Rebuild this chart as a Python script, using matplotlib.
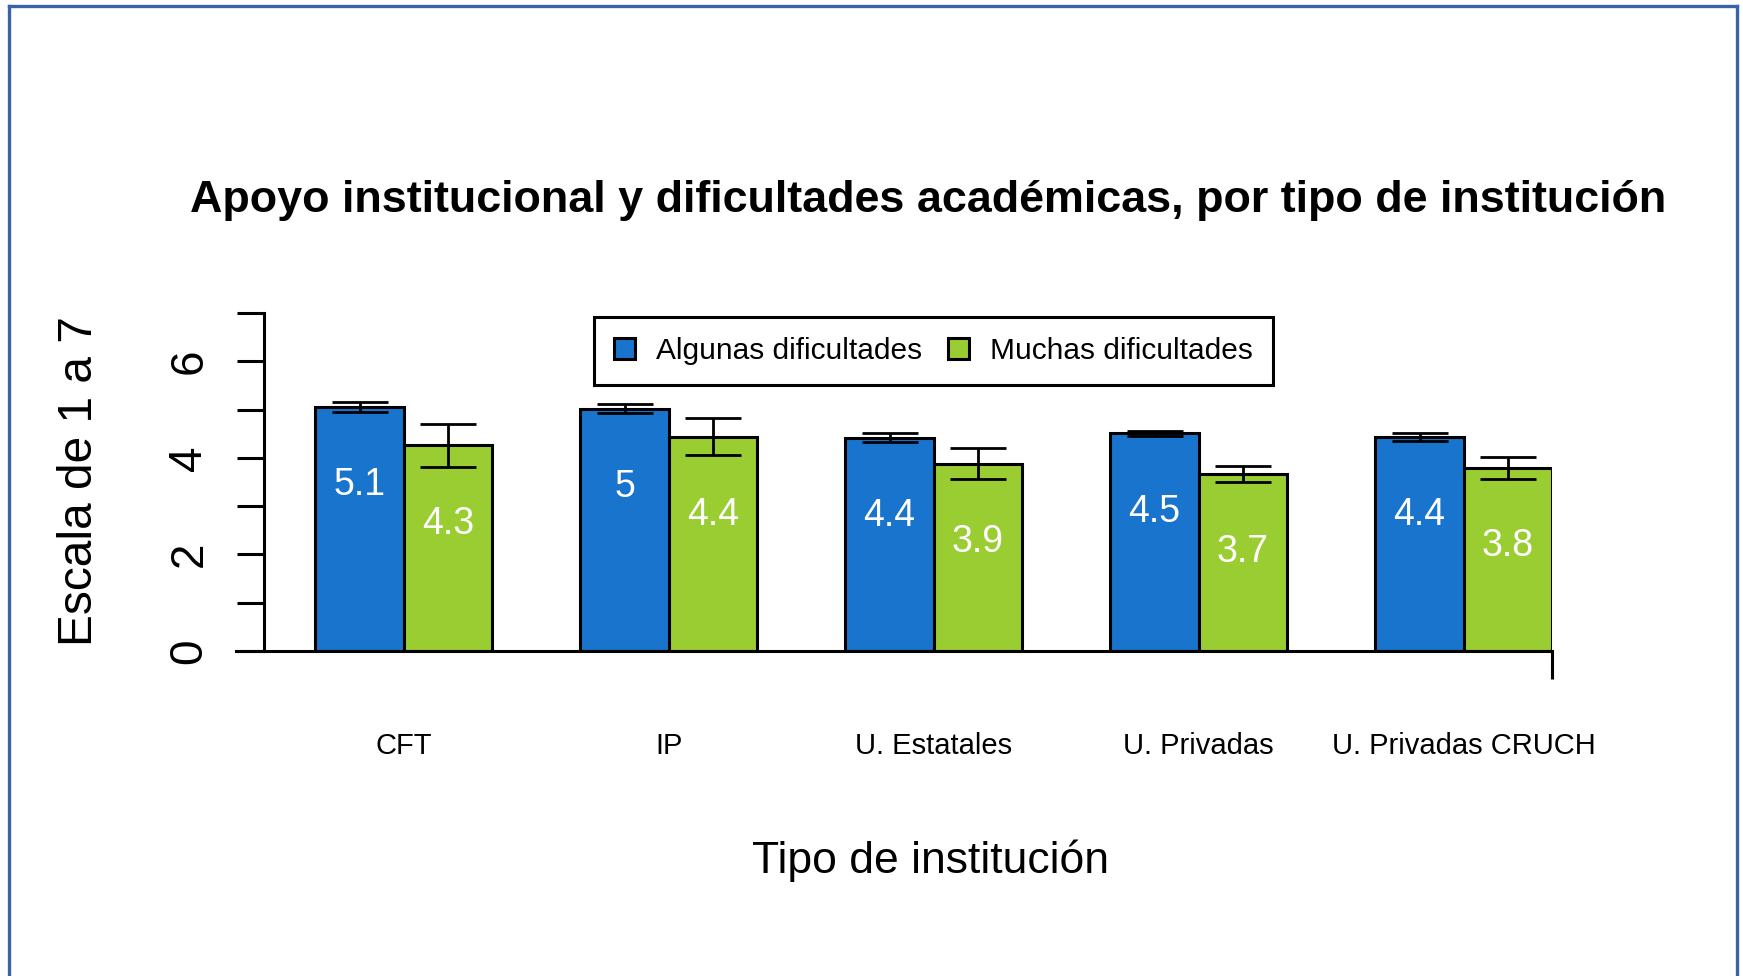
import matplotlib
matplotlib.use('Agg')
import matplotlib.pyplot as plt
from matplotlib import font_manager
from matplotlib.lines import Line2D

# data
categorias = ['CFT', 'IP', 'U. Estatales', 'U. Privadas', 'U. Privadas CRUCH']
series = ['Algunas dificultades', 'Muchas dificultades']
algunas = [5.06, 5.02, 4.42, 4.51, 4.43]
algunas_err = [0.10, 0.10, 0.09, 0.05, 0.09]
muchas = [4.26, 4.44, 3.88, 3.67, 3.79]
muchas_err = [0.44, 0.38, 0.32, 0.16, 0.23]
y_ticks = [0, 1, 2, 3, 4, 5, 6, 7]
y_ticklabels = ['0', '', '2', '', '4', '', '6', '']

AZUL = '#1874CD'
VERDE = '#9ACD32'
MARCO = '#3a62ad'

plt.rcParams['font.family'] = 'Liberation Sans'
names = {f.name for f in font_manager.fontManager.ttflist}
narrow = 'Liberation Sans Narrow' in names
fam_narrow = 'Liberation Sans Narrow' if narrow else 'Liberation Sans'
size_vals = 30 if narrow else 27
size_xt = 24 if narrow else 21

W, H = 1743, 976
fig = plt.figure(figsize=(W / 100, H / 100), dpi=100)

# axes placed in pixel terms: left 236, right 1552, top 313, bottom 651
L, R, T, B = 236, 1552, 313, 651
ax = fig.add_axes([L / W, 1 - B / H, (R - L) / W, (B - T) / H])

def axx(px):
    return (px - L) / (R - L)

def axy(py):
    return (B - py) / (B - T)

# bar positions, R barplot style (width 1, one bar gap between groups)
n = len(categorias)
x_alg = [1.5 + 3 * i for i in range(n)]
x_muc = [2.5 + 3 * i for i in range(n)]
centros = [2 + 3 * i for i in range(n)]

lw = 2.2
b1 = ax.bar(x_alg, algunas, width=1, color=AZUL, edgecolor='black', linewidth=lw, zorder=2)
b2 = ax.bar(x_muc, muchas, width=1, color=VERDE, edgecolor='black', linewidth=lw, zorder=2)

ax.errorbar(x_alg, algunas, yerr=algunas_err, fmt='none', ecolor='black',
            elinewidth=2, capsize=20.5, capthick=2, zorder=3)
ax.errorbar(x_muc, muchas, yerr=muchas_err, fmt='none', ecolor='black',
            elinewidth=2, capsize=20.5, capthick=2, zorder=3)

# value labels inside bars
for xs, vals in ((x_alg, algunas), (x_muc, muchas)):
    for x, v in zip(xs, vals):
        ax.text(x, v - 1.54, '%g' % round(v, 1), color='white', ha='center',
                va='center_baseline', fontsize=size_vals, family=fam_narrow, zorder=4)

ax.set_xlim(0.1, 15.0)
ax.set_ylim(0, 7)

for s in ('top', 'right'):
    ax.spines[s].set_visible(False)
ax.spines['left'].set_position(('data', 0.417))
ax.spines['left'].set_bounds(0, 7)
ax.spines['left'].set_linewidth(lw)
ax.spines['bottom'].set_linewidth(lw)

ax.set_yticks(y_ticks, y_ticklabels, rotation=90, ha='right', va='center')
ax.tick_params(axis='y', length=19.4, width=lw, pad=18.5, labelsize=33)

# single tick at right end of x axis line, category labels as minor ticks
ax.set_xticks([15.0], [''])
ax.tick_params(axis='x', which='major', length=20, width=lw)
ax.set_xticks(centros, categorias, minor=True)
ax.tick_params(axis='x', which='minor', length=0, pad=58, labelsize=size_xt)
for lab in ax.get_xticklabels(minor=True):
    lab.set_family(fam_narrow)

ax.set_xlabel('Tipo de institución', fontsize=32, va='top')
ax.xaxis.set_label_coords(axx(930), axy(839))
ax.set_ylabel('Escala de 1 a 7', fontsize=34.5)
ax.yaxis.set_label_coords(axx(102), axy(481))

ax.set_title('Apoyo institucional y dificultades académicas, por tipo de institución',
             fontsize=32.3, fontweight='bold', x=axx(928), y=axy(220), va='baseline')

leg = ax.legend(handles=[b1, b2], labels=series, ncol=2, loc='center',
                bbox_to_anchor=(933.5 / W, 1 - 351 / H), bbox_transform=fig.transFigure,
                fontsize=21.5, frameon=True, fancybox=False, edgecolor='black',
                framealpha=1, handlelength=0.7, handleheight=0.7, handletextpad=0.72,
                columnspacing=0.85, borderpad=0.66, borderaxespad=0)
leg.get_frame().set_linewidth(lw)

# blue frame around the picture (no bottom side)
for xs, ys in (([8.5, 8.5], [H, 6]), ([8.5, 1737], [6, 6]), ([1737, 1737], [6, H])):
    fig.add_artist(Line2D([x / W for x in xs], [1 - y / H for y in ys],
                          color=MARCO, lw=2.4, transform=fig.transFigure))

fig.savefig('out.png', dpi=100)
